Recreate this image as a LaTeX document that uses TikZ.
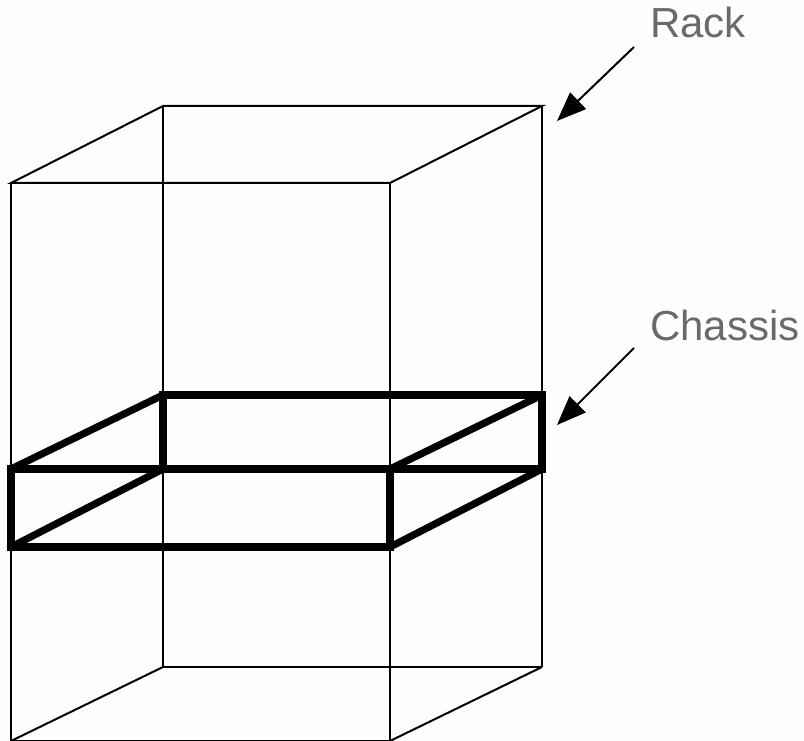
\documentclass[tikz,border=0pt]{standalone}
\usepackage{fontspec}
\setmainfont{Liberation Sans}
\usetikzlibrary{arrows.meta}
\definecolor{paper}{HTML}{FEFEFC}
\definecolor{labelgrey}{HTML}{6A6A6A}
\tikzset{
  rackline/.style={draw=black,line width=1.5pt},
  chassisline/.style={draw=black,line width=5.4pt,line join=miter,line cap=rect},
  chassisdiag/.style={draw=black,line width=5.4pt,line cap=butt,shorten <=1.5pt,shorten >=1.5pt},
  pointer/.style={draw=black,line width=1.5pt,-{Triangle[length=22pt,width=17pt]},shorten >=0pt},
  callout/.style={text=labelgrey,font=\fontsize{31.5pt}{34pt}\selectfont,anchor=base west,inner sep=0pt,outer sep=0pt}
}
\begin{document}
\begin{tikzpicture}[x=0.75pt,y=-0.75pt]
\useasboundingbox (0,0) rectangle (804,741);
\fill[paper] (0,0) rectangle (804,741);
% rack corners
\coordinate (ftl) at (11,183);
\coordinate (ftr) at (390,183);
\coordinate (btl) at (163,106);
\coordinate (btr) at (542,106);
\coordinate (fbl) at (11,741);
\coordinate (fbr) at (390,741);
\coordinate (bbl) at (163,667);
\coordinate (bbr) at (542,667);
% chassis corners
\coordinate (cftl) at (11,469);
\coordinate (cftr) at (390,469);
\coordinate (cfbl) at (11,547);
\coordinate (cfbr) at (390,547);
\coordinate (cbtl) at (163,395);
\coordinate (cbtr) at (542,395);
\coordinate (cbbl) at (163,469);
\coordinate (cbbr) at (542,469);
% rack
\draw[rackline] (ftl) -- (ftr) -- (btr) -- (btl) -- cycle;
\draw[rackline] (ftl) -- (fbl);
\draw[rackline] (ftr) -- (fbr);
\draw[rackline] (btl) -- (bbl);
\draw[rackline] (btr) -- (bbr);
\draw[rackline] (bbl) -- (bbr);
\draw[rackline] (bbl) -- (fbl);
\draw[rackline] (bbr) -- (fbr);
\draw[rackline] (fbl) -- (fbr);
% chassis
\draw[chassisline] (cftl) rectangle (cfbr);
\draw[chassisline] (cbtl) rectangle (cbbr);
\draw[chassisdiag] (cftl) -- (cbtl);
\draw[chassisdiag] (cfbl) -- (cbbl);
\draw[chassisdiag] (cftr) -- (cbtr);
\draw[chassisdiag] (cfbr) -- (cbbr);
% labels
\node[callout] (rack) at (650,38) {Rack};
\node[callout] (chassis) at (650,341) {Chassis};
\coordinate (rackfrom) at (634,47);
\coordinate (racktip) at (557,121);
\coordinate (chassisfrom) at (634,348);
\coordinate (chassistip) at (557,425);
\draw[pointer] (rackfrom) -- (racktip);
\draw[pointer] (chassisfrom) -- (chassistip);
\end{tikzpicture}
\end{document}
